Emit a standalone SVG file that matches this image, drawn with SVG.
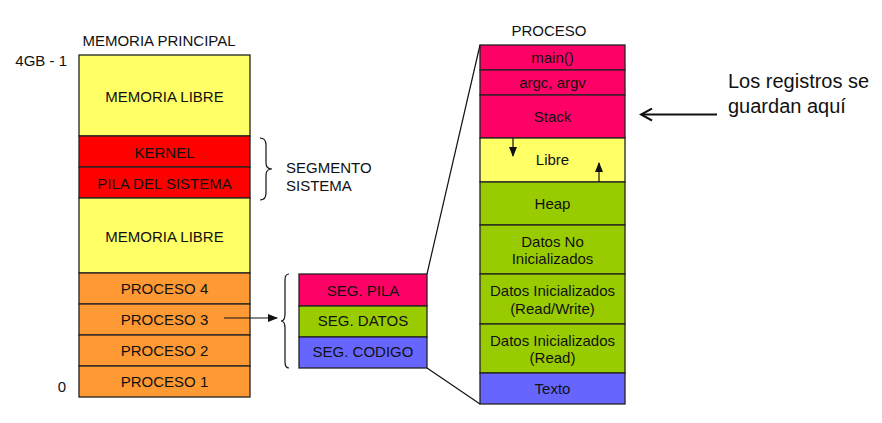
<svg xmlns="http://www.w3.org/2000/svg" width="882" height="423" viewBox="0 0 882 423">
<style>
text{font-family:"Liberation Sans",Arial,sans-serif;font-size:15px;fill:#111;text-anchor:middle}
.cell{stroke:#222;stroke-width:1.3}
.y{fill:#FFFF66}.r{fill:#FF0000}.o{fill:#FF9933}.p{fill:#FF0066}.g{fill:#99CC00}.b{fill:#6666FF}
.ln{fill:none;stroke:#111;stroke-width:1.2}
.big{font-size:20px;text-anchor:start}
</style>
<defs>
<marker id="ah" markerWidth="10" markerHeight="8" refX="9" refY="4" orient="auto" markerUnits="userSpaceOnUse"><path d="M0,0 L10,4 L0,8 Z" fill="#111"/></marker>
<marker id="open" markerWidth="14" markerHeight="14" refX="12" refY="7" orient="auto" markerUnits="userSpaceOnUse"><path d="M1,1 L12,7 L1,13" fill="none" stroke="#111" stroke-width="2"/></marker>
</defs>
<rect width="882" height="423" fill="#fff"/>
<text x="159" y="46">MEMORIA PRINCIPAL</text>
<text x="67" y="66" style="text-anchor:end">4GB - 1</text>
<text x="66" y="392" style="text-anchor:end">0</text>
<g id="mem">
<g id="m-libre1"><rect class="cell y" x="79" y="55" width="171" height="81"/><text x="164.5" y="102">MEMORIA LIBRE</text></g>
<g id="m-kernel"><rect class="cell r" x="79" y="136" width="171" height="31"/><text x="164.5" y="157.5">KERNEL</text></g>
<g id="m-pila"><rect class="cell r" x="79" y="167" width="171" height="31"/><text x="164.5" y="189">PILA DEL SISTEMA</text></g>
<g id="m-libre2"><rect class="cell y" x="79" y="198" width="171" height="75"/><text x="164.5" y="242">MEMORIA LIBRE</text></g>
<g id="m-p4"><rect class="cell o" x="79" y="273" width="171" height="31"/><text x="164.5" y="294">PROCESO 4</text></g>
<g id="m-p3"><rect class="cell o" x="79" y="304" width="171" height="31"/><text x="164.5" y="325">PROCESO 3</text></g>
<g id="m-p2"><rect class="cell o" x="79" y="335" width="171" height="31"/><text x="164.5" y="356">PROCESO 2</text></g>
<g id="m-p1"><rect class="cell o" x="79" y="366" width="171" height="31"/><text x="164.5" y="387">PROCESO 1</text></g>
</g>
<g id="seg-sistema">
<path class="ln" d="M260,138 Q266,138 266,145 L266,163 Q266,169 272,169 Q266,169 266,175 L266,193 Q266,200 260,200"/>
<text x="286" y="173" style="text-anchor:start">SEGMENTO</text>
<text x="286" y="191" style="text-anchor:start">SISTEMA</text>
</g>
<g id="segs">
<g id="s-pila"><rect class="cell p" x="299" y="274" width="128" height="32"/><text x="363" y="296">SEG. PILA</text></g>
<g id="s-datos"><rect class="cell g" x="299" y="306" width="128" height="31"/><text x="363" y="326">SEG. DATOS</text></g>
<g id="s-codigo"><rect class="cell b" x="299" y="337" width="128" height="31"/><text x="363" y="357">SEG. CODIGO</text></g>
</g>
<text x="549" y="36">PROCESO</text>
<g id="proc">
<g id="p-main"><rect class="cell p" x="480" y="45" width="145" height="25"/><text x="552.5" y="63">main()</text></g>
<g id="p-argc"><rect class="cell p" x="480" y="70" width="145" height="25"/><text x="552.5" y="87.5">argc, argv</text></g>
<g id="p-stack"><rect class="cell p" x="480" y="95" width="145" height="43"/><text x="552.5" y="121.5">Stack</text></g>
<g id="p-libre"><rect class="cell y" x="480" y="138" width="145" height="44"/><text x="552.5" y="165">Libre</text></g>
<g id="p-heap"><rect class="cell g" x="480" y="182" width="145" height="43"/><text x="552.5" y="208.5">Heap</text></g>
<g id="p-dni"><rect class="cell g" x="480" y="225" width="145" height="49"/><text x="552.5" y="246.5">Datos No</text><text x="552.5" y="264">Inicializados</text></g>
<g id="p-dirw"><rect class="cell g" x="480" y="274" width="145" height="50"/><text x="552.5" y="296">Datos Inicializados</text><text x="552.5" y="313.5">(Read/Write)</text></g>
<g id="p-dir"><rect class="cell g" x="480" y="324" width="145" height="49"/><text x="552.5" y="345.5">Datos Inicializados</text><text x="552.5" y="363">(Read)</text></g>
<g id="p-texto"><rect class="cell b" x="480" y="373" width="145" height="31"/><text x="552.5" y="394">Texto</text></g>
</g>
<g id="note">
<text class="big" x="728" y="88">Los registros se</text>
<text class="big" x="728" y="113">guardan aquí</text>
</g>
<g id="connectors">
<path class="ln" d="M289,274 Q285,274 285,280 L285,314 Q285,321 281,321 Q285,321 285,328 L285,362 Q285,368 289,368"/>
<line class="ln" x1="224" y1="318" x2="277" y2="318" marker-end="url(#ah)"/>
<line class="ln" x1="427" y1="274" x2="480" y2="45"/>
<line class="ln" x1="427" y1="368" x2="480" y2="404"/>
<line class="ln" x1="513" y1="138" x2="513" y2="156" marker-end="url(#ah)"/>
<line class="ln" x1="599" y1="182" x2="599" y2="163" marker-end="url(#ah)"/>
<line x1="717" y1="114.5" x2="641" y2="114.5" stroke="#111" stroke-width="2" marker-end="url(#open)"/>
</g>
</svg>
